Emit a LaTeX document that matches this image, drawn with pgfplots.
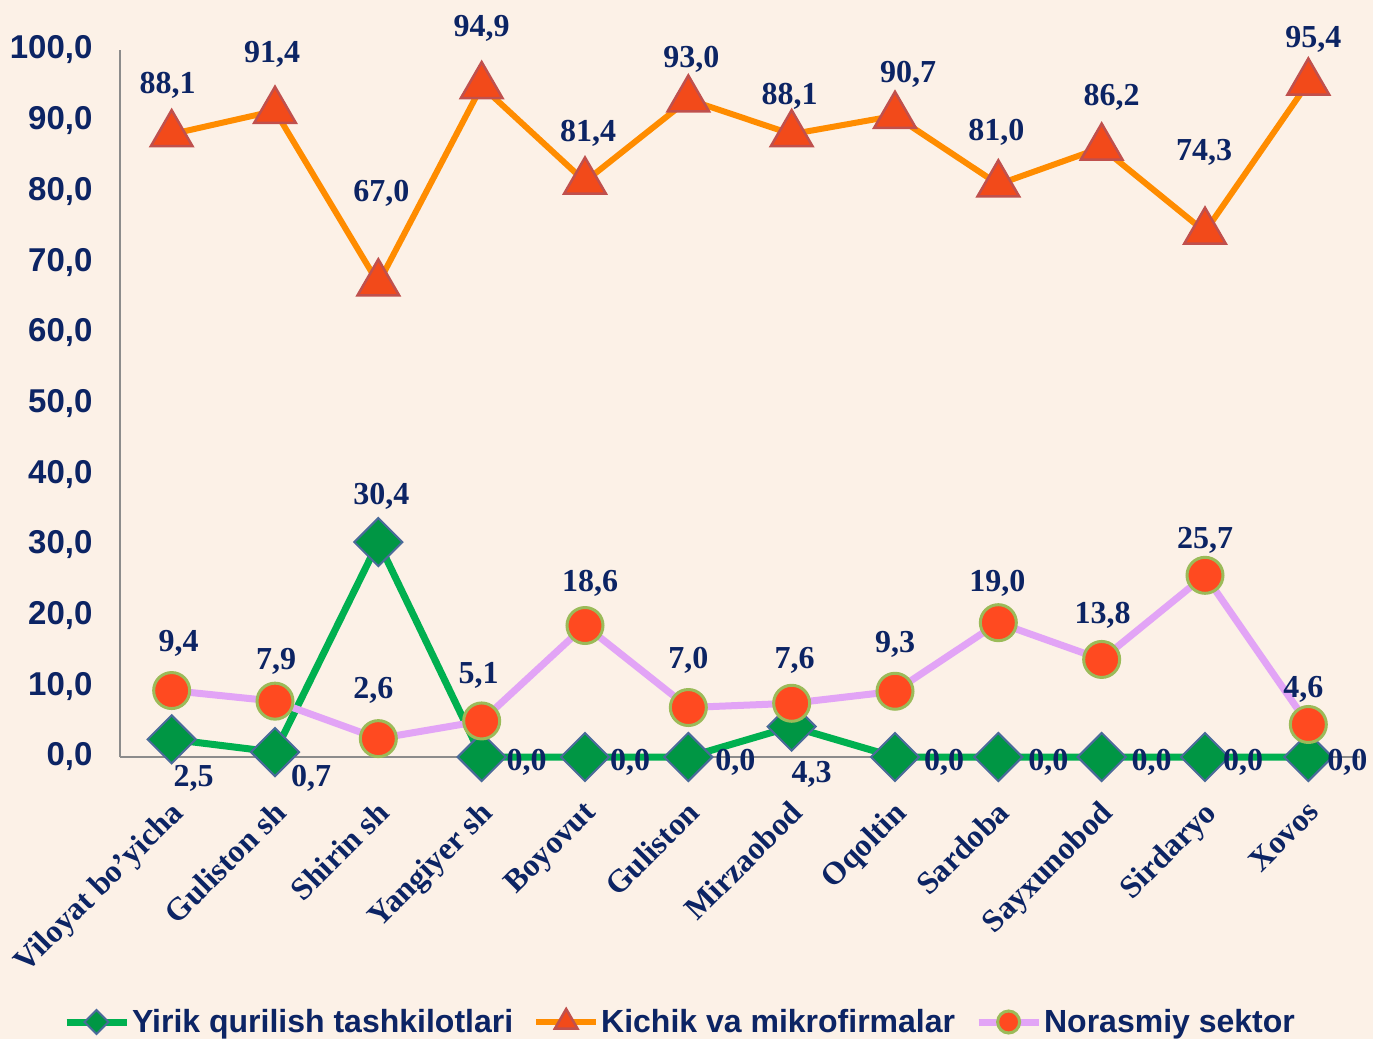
\documentclass[border=0pt]{standalone}
\usepackage{fontspec}
\setmainfont{Liberation Serif}
\setsansfont{Liberation Sans}
\usepackage{pgfplots}
\usepackage{pgfplotstable}
\pgfplotsset{compat=1.18}
\definecolor{bg}{HTML}{FCF1E7}
\definecolor{navy}{HTML}{0C2464}
\definecolor{grn}{HTML}{00B050}
\definecolor{grnedge}{HTML}{4A6A9A}
\definecolor{vio}{HTML}{E2A4F6}
\definecolor{orng}{HTML}{FF8C00}
\definecolor{trifill}{HTML}{F24A1A}
\definecolor{triedge}{HTML}{C0504D}
\definecolor{circfill}{HTML}{FF4A20}
\definecolor{circedge}{HTML}{9BBB59}
\definecolor{axgray}{HTML}{8C8C8C}

% x y dx dy  (dx,dy: offset of label centre from point)
\pgfplotstableread{
x y dx dy
0 2.5 22 -39
1 0.7 36 -26
2 30.4 3 46
3 0 45 -5
4 0 45 -5
5 0 47 -5
6 4.3 20 -48
7 0 49 -5
8 0 50 -5
9 0 50 -5
10 0 38 -5
11 0 39 -5
}\yirik
\pgfplotstableread{
x y dx dy
0 88.1 -4 49
1 91.4 -3 56
2 67.0 3 90
3 94.9 0 58
4 81.4 3 48
5 93.0 3 40
6 88.1 -2 38
7 90.7 13 41
8 81.0 -2 52
9 86.2 10 50
10 74.3 -1 79
11 95.4 5 43
}\kichik
\pgfplotstableread{
x y dx dy
0 9.4 7 47
1 7.9 1 40
2 2.6 -5 48
3 5.1 -3 46
4 18.6 5 42
5 7.0 0 47
6 7.6 3 43
7 9.3 0 47
8 19.0 -1 39
9 13.8 1 44
10 25.7 0 35
11 4.6 -5 35
}\norasmiy

\begin{document}
\begin{tikzpicture}[x=1pt,y=1pt]
\fill[bg] (0,0) rectangle (1373,-1039);
\path[use as bounding box] (0,0) rectangle (1373,-1039);
\begin{axis}[
  at={(120pt,-757pt)}, anchor=south west,
  scale only axis, width=1240pt, height=707pt,
  xmin=-0.5, xmax=11.5, ymin=0, ymax=100,
  clip=false,
  axis x line=bottom, axis y line=left,
  axis line style={-, draw=axgray, line width=2pt},
  major tick length=0pt,
  ytick={0,10,...,100},
  yticklabel style={
    /pgf/number format/.cd, fixed, fixed zerofill, precision=1, use comma, assume math mode=true,
    /tikz/.cd, font=\sffamily\bfseries\fontsize{33}{33}\selectfont, text=navy, anchor=east, xshift=-24pt},
  xtick={0,...,11},
  xticklabels={Viloyat bo'yicha, Guliston sh, Shirin sh, Yangiyer sh, Boyovut, Guliston, Mirzaobod, Oqoltin, Sardoba, Sayxunobod, Sirdaryo, Xovos},
  xticklabel style={font=\bfseries\fontsize{32}{32}\selectfont, text=navy,
    xshift=-3pt, yshift=-42pt, rotate=45, anchor=north east, inner sep=0pt},
  legend style={at={(0.4516,-0.3748)}, anchor=center, draw=none, fill=none,
    legend columns=3, font=\sffamily\bfseries\fontsize{32}{32}\selectfont, text=navy,
    /tikz/every even column/.append style={column sep=18pt}},
  legend cell align=left,
  legend image code/.code={\draw[mark repeat=2,mark phase=2,#1] plot coordinates {(0pt,0pt)(30pt,0pt)(60pt,0pt)};},
]
\addplot[grn, line width=7pt, mark=square*, mark size=17pt,
  mark options={rotate=45, fill=grn!85!black, draw=grnedge, line width=2pt},
  legend image post style={mark size=8.5pt}]
  table[x=x,y=y] {\yirik};
\addlegendentry{Yirik qurilish tashkilotlari}
\addplot[orng, line width=6pt, mark=triangle*, mark size=24pt,
  mark options={fill=trifill, draw=triedge, line width=2.5pt},
  legend image post style={mark size=13pt}]
  table[x=x,y=y] {\kichik};
\addlegendentry{Kichik va mikrofirmalar}
\addplot[vio, line width=7pt, mark=*, mark size=18pt,
  mark options={fill=circfill, draw=circedge, line width=3pt},
  legend image post style={mark size=11pt}]
  table[x=x,y=y] {\norasmiy};
\addlegendentry{Norasmiy sektor}

% data labels
\pgfplotsset{lbl/.style={forget plot, draw=none, mark=none,
  visualization depends on={\thisrow{dx}\as\dx},
  visualization depends on={\thisrow{dy}\as\dy},
  nodes near coords={\pgfmathprintnumber[fixed,fixed zerofill,precision=1,use comma,assume math mode=true]{\pgfplotspointmeta}},
  nodes near coords style={anchor=center, xshift=\dx pt, yshift=\dy pt,
    font=\bfseries\fontsize{32}{32}\selectfont, text=navy, inner sep=0pt}}}
\addplot[lbl] table[x=x,y=y] {\yirik};
\addplot[lbl] table[x=x,y=y] {\kichik};
\addplot[lbl] table[x=x,y=y] {\norasmiy};
\end{axis}
\end{tikzpicture}
\end{document}
